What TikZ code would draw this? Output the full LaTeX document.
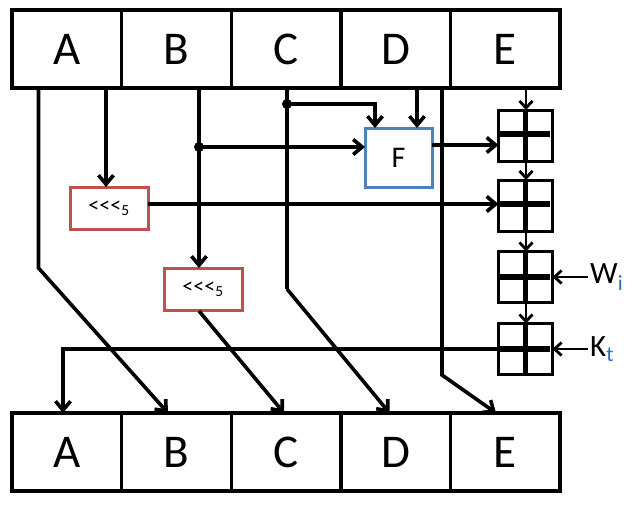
\documentclass[tikz,border=0pt]{standalone}
\usepackage{fontspec}
\setmainfont{Carlito}
\usetikzlibrary{arrows.meta}
\definecolor{boxred}{HTML}{C0504D}
\definecolor{boxblue}{HTML}{4F81BD}
\definecolor{subblue}{HTML}{2F6EBA}
\begin{document}
\begin{tikzpicture}[x=1pt,y=-1pt,
  cell/.style={draw,line width=3.4pt,minimum width=109.6pt,minimum height=78pt,inner sep=0pt,outer sep=0pt,font=\fontsize{47}{50}\selectfont},
  rotbox/.style={draw=boxred,line width=3pt,minimum width=78pt,minimum height=42pt,inner sep=0pt,outer sep=0pt,font=\fontsize{22}{24}\selectfont},
  fbox/.style={draw=boxblue,line width=3pt,minimum width=67pt,minimum height=59pt,inner sep=0pt,outer sep=0pt,font=\fontsize{30}{32}\selectfont},
  adder/.style={draw,line width=3pt,minimum width=54pt,minimum height=51pt,inner sep=0pt,outer sep=0pt},
  conn/.style={line width=3.6pt,-{Straight Barb[length=9pt,width=15pt]}},
  plain/.style={line width=3.6pt},
  chainarrow/.style={line width=2.8pt,-{Straight Barb[length=7pt,width=13pt]}},
  bar/.style={line width=5.2pt},
  dot/.style={circle,fill,inner sep=0pt,minimum size=10pt},
  lbl/.style={anchor=west,inner sep=0pt,font=\fontsize{31}{33}\selectfont}
]
\useasboundingbox (0,0) rectangle (636,504);
% top register
\node[cell] (tA) at (66.8,49) {A};
\node[cell] (tB) at (176.4,49) {B};
\node[cell] (tC) at (286,49) {C};
\node[cell] (tD) at (395.6,49) {D};
\node[cell] (tE) at (505.2,49) {E};
% bottom register
\node[cell] (bA) at (66.8,452) {A};
\node[cell] (bB) at (176.4,452) {B};
\node[cell] (bC) at (286,452) {C};
\node[cell] (bD) at (395.6,452) {D};
\node[cell] (bE) at (505.2,452) {E};
% function boxes
\node[rotbox] (r1) at (109,208) {<\kern0pt<\kern0pt<\textsubscript{5}};
\node[rotbox] (r2) at (203,289) {<\kern0pt<\kern0pt<\textsubscript{5}};
\node[fbox] (F) at (398.5,157.5) {F};
% adders
\node[adder] (s1) at (525.5,135.5) {};
\node[adder] (s2) at (525.5,205.5) {};
\node[adder] (s3) at (525.5,277) {};
\node[adder] (s4) at (525.5,349) {};
\foreach \s/\y in {s1/134,s2/204,s3/277,s4/349}{
  \draw[bar] (\s.west |- 0,\y) -- (550,\y);
  \draw[line width=4.4pt] (\s.north) -- (\s.south);
}
% labels
\node[lbl] (W) at (590,277) {W\textsubscript{\color{subblue}i}};
\node[lbl] (K) at (590,349) {K\textsubscript{\color{subblue}t}};
% coordinates
\coordinate (a0) at (38.5,88);
\coordinate (a1) at (38.5,268);
\coordinate (a2) at (168,413);
\coordinate (ar0) at (106,88);
\coordinate (b0) at (199,88);
\coordinate (bd) at (199,147);
\coordinate (b1) at (199,311);
\coordinate (b2) at (284,413);
\coordinate (c0) at (287,88);
\coordinate (cd) at (287,104);
\coordinate (cf) at (375,104);
\coordinate (c1) at (287,289);
\coordinate (c2) at (389.5,413);
\coordinate (d0) at (417,88);
\coordinate (e0) at (442,88);
\coordinate (e1) at (442,375);
\coordinate (e2) at (496,413);
\coordinate (ee) at (526,88);
\coordinate (kl) at (63,349);
\coordinate (ka) at (63,413);
% connectors
\draw[conn] (a0) -- (a1) -- (a2);
\draw[conn] (ar0) -- (ar0 |- r1.north);
\draw[conn] (b0) -- (b0 |- r2.north);
\node[dot] (bdot) at (bd) {};
\draw[conn] (bdot.center) -- (bd -| F.west);
\draw[conn] (b1) -- (b2);
\draw[plain] (c0) -- (c1);
\draw[conn] (c1) -- (c2);
\node[dot] (cdot) at (cd) {};
\draw[conn] (cdot.center) -- (cf) -- (cf |- F.north);
\draw[conn] (d0) -- (d0 |- F.north);
\draw[conn] (e0) -- (e1) -- (e2);
\draw[conn] (F.east |- 0,145) -- (s1.west |- 0,145);
\draw[conn] (r1.east |- 0,204) -- (s2.west |- 0,204);
\draw[chainarrow] (ee) -- (ee |- s1.north);
\draw[chainarrow] (s1.south -| ee) -- (ee |- s2.north);
\draw[chainarrow] (s2.south -| ee) -- (ee |- s3.north);
\draw[chainarrow] (s3.south -| ee) -- (ee |- s4.north);
\draw[chainarrow] (W.west) ++(-2,0) -- (s3.east);
\draw[chainarrow] (K.west) ++(-2,0) -- (s4.east);
\draw[conn] (s4.west |- kl) -- (kl) -- (ka);
\end{tikzpicture}
\end{document}
